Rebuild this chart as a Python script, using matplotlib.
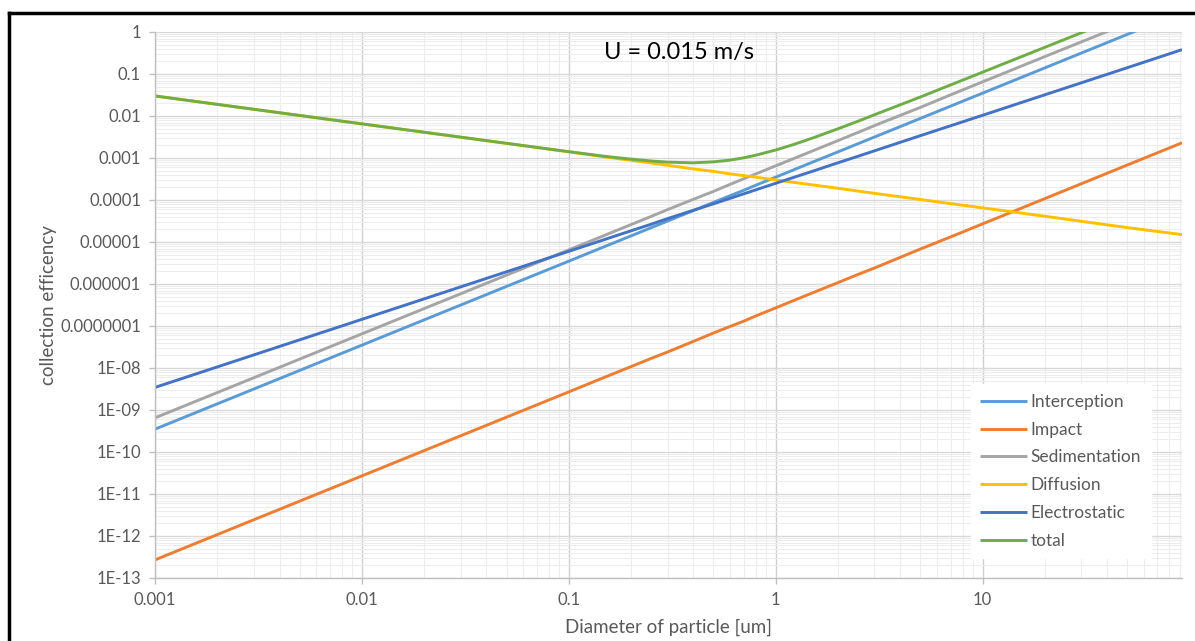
import matplotlib
matplotlib.use("Agg")
import matplotlib.pyplot as plt
from matplotlib.lines import Line2D
from matplotlib.ticker import FixedLocator, LogLocator, NullFormatter

plt.rcParams['font.family'] = ['Lato', 'DejaVu Sans']

# Particle diameters [um] at which values were read
diameter = [0.001, 0.01, 0.1, 0.15, 0.2, 0.25, 0.3, 0.4, 0.5, 0.6, 0.7, 0.8, 1, 1.2, 1.5,
            2, 2.5, 3, 5, 7, 10, 20, 50, 92]

interception = [3.5e-10, 3.5e-8, 3.5e-6, 7.9e-6, 1.4e-5, 2.19e-5, 3.15e-5, 5.6e-5, 8.75e-5,
                1.26e-4, 1.7e-4, 2.24e-4, 3.5e-4, 5.04e-4, 7.9e-4, 1.4e-3, 2.19e-3, 3.15e-3,
                8.75e-3, 0.01715, 0.035, 0.14, 0.875, 2.96]
impact = [2.7e-13, 2.7e-11, 2.7e-9, 6.1e-9, 1.08e-8, 1.69e-8, 2.4e-8, 4.3e-8, 6.8e-8,
          9.7e-8, 1.3e-7, 1.73e-7, 2.7e-7, 3.9e-7, 6.1e-7, 1.08e-6, 1.69e-6, 2.4e-6,
          6.8e-6, 1.32e-5, 2.7e-5, 1.08e-4, 6.8e-4, 2.3e-3]
sedimentation = [6.5e-10, 6.5e-8, 6.5e-6, 1.46e-5, 2.6e-5, 4.06e-5, 5.9e-5, 1.04e-4, 1.6e-4,
                 2.34e-4, 3.2e-4, 4.16e-4, 6.5e-4, 9.36e-4, 1.46e-3, 2.6e-3, 4.06e-3, 5.9e-3,
                 0.016, 0.03185, 0.065, 0.26, 1.6, 5.5]
diffusion = [0.030, 0.0065, 1.4e-3, 1.06e-3, 8.8e-4, 7.6e-4, 6.7e-4, 5.5e-4, 4.8e-4,
             4.2e-4, 3.8e-4, 3.5e-4, 3.0e-4, 2.66e-4, 2.3e-4, 1.9e-4, 1.63e-4, 1.44e-4,
             1.03e-4, 8.2e-5, 6.5e-5, 4.1e-5, 2.2e-5, 1.5e-5]
electrostatic = [3.45e-9, 1.44e-7, 6.0e-6, 1.16e-5, 1.85e-5, 2.65e-5, 3.6e-5, 5.7e-5, 8.1e-5,
                 1.09e-4, 1.4e-4, 1.74e-4, 2.5e-4, 3.36e-4, 4.8e-4, 7.7e-4, 1.1e-3, 1.48e-3,
                 3.4e-3, 5.85e-3, 0.0104, 0.032, 0.141, 0.38]
total = [0.030, 0.0065, 1.416e-3, 1.094e-3, 9.39e-4, 8.49e-4, 7.97e-4, 7.67e-4, 8.09e-4,
         8.89e-4, 1.01e-3, 1.164e-3, 1.55e-3, 2.04e-3, 2.96e-3, 4.96e-3, 7.51e-3, 0.0107,
         0.0283, 0.0549, 0.1105, 0.432, 2.62, 8.84]

series_names = ["Interception", "Impact", "Sedimentation", "Diffusion", "Electrostatic", "total"]
series_colors = ["#5B9BD5", "#ED7D31", "#A5A5A5", "#FFC000", "#4472C4", "#70AD47"]
series_values = [interception, impact, sedimentation, diffusion, electrostatic, total]

x_ticks = [0.001, 0.01, 0.1, 1, 10]
x_ticklabels = ["0.001", "0.01", "0.1", "1", "10"]
y_ticks = [1e0, 1e-1, 1e-2, 1e-3, 1e-4, 1e-5, 1e-6, 1e-7, 1e-8, 1e-9, 1e-10, 1e-11, 1e-12, 1e-13]
y_ticklabels = ["1", "0.1", "0.01", "0.001", "0.0001", "0.00001", "0.000001", "0.0000001",
                "1E-08", "1E-09", "1E-10", "1E-11", "1E-12", "1E-13"]

fig = plt.figure(figsize=(11.95, 6.41), dpi=100)
ax = fig.add_axes([155/1195, 1 - 578/641, (1182-155)/1195, (578-32)/641])

for name, color, vals in zip(series_names, series_colors, series_values):
    ax.plot(diameter, vals, color=color, lw=2.1, label=name, solid_capstyle='butt')

ax.set_xscale('log')
ax.set_yscale('log')
ax.set_xlim(0.001, 92)
ax.set_ylim(1e-13, 1)

ax.xaxis.set_major_locator(FixedLocator(x_ticks))
ax.set_xticklabels(x_ticklabels)
ax.xaxis.set_minor_locator(LogLocator(base=10, subs=range(2, 10), numticks=50))
ax.xaxis.set_minor_formatter(NullFormatter())
ax.yaxis.set_major_locator(FixedLocator(y_ticks))
ax.set_yticklabels(y_ticklabels)
ax.yaxis.set_minor_locator(LogLocator(base=10, subs=range(2, 10), numticks=50))
ax.yaxis.set_minor_formatter(NullFormatter())

ax.grid(which='major', axis='x', color='#cfcfcf', lw=1.0)
ax.grid(which='major', axis='y', color='#d9d9d9', lw=1.0)
ax.grid(which='minor', color='#ededed', lw=0.8)
ax.set_axisbelow(True)

for s in ['top', 'right']:
    ax.spines[s].set_visible(False)
for s in ['left', 'bottom']:
    ax.spines[s].set_color('#bfbfbf')
    ax.spines[s].set_linewidth(1.0)

ax.tick_params(axis='both', which='major', colors='#bfbfbf', labelcolor='#595959',
               labelsize=12, length=4, width=1)
ax.tick_params(axis='x', which='major', pad=6)
ax.tick_params(axis='y', which='major', pad=6)
ax.tick_params(axis='both', which='minor', length=0)

ax.set_xlabel("Diameter of particle [um]", fontsize=13.5, color='#595959', labelpad=8)
ax.set_ylabel("collection efficency", fontsize=13.5, color='#595959', labelpad=2)

ax.text(0.51, 0.963, "U = 0.015 m/s", transform=ax.transAxes, ha='center', va='center',
        fontsize=17, color='black')

leg = ax.legend(loc='lower right', bbox_to_anchor=(0.978, 0.02), fontsize=12.5,
                frameon=True, fancybox=False, framealpha=1, edgecolor='white',
                handlelength=2.7, handletextpad=0.2, labelspacing=0.68, borderpad=0.55)
for t in leg.get_texts():
    t.set_color('#595959')

# outer black frame (partially cropped in reference)
fig.add_artist(Line2D([9/1195, 1.0], [1 - 13/641, 1 - 13/641], transform=fig.transFigure,
                      color='black', lw=2.5))
fig.add_artist(Line2D([9/1195, 9/1195], [1 - 13/641, 0.0], transform=fig.transFigure,
                      color='black', lw=2.5))

fig.savefig("out.png", dpi=100)
